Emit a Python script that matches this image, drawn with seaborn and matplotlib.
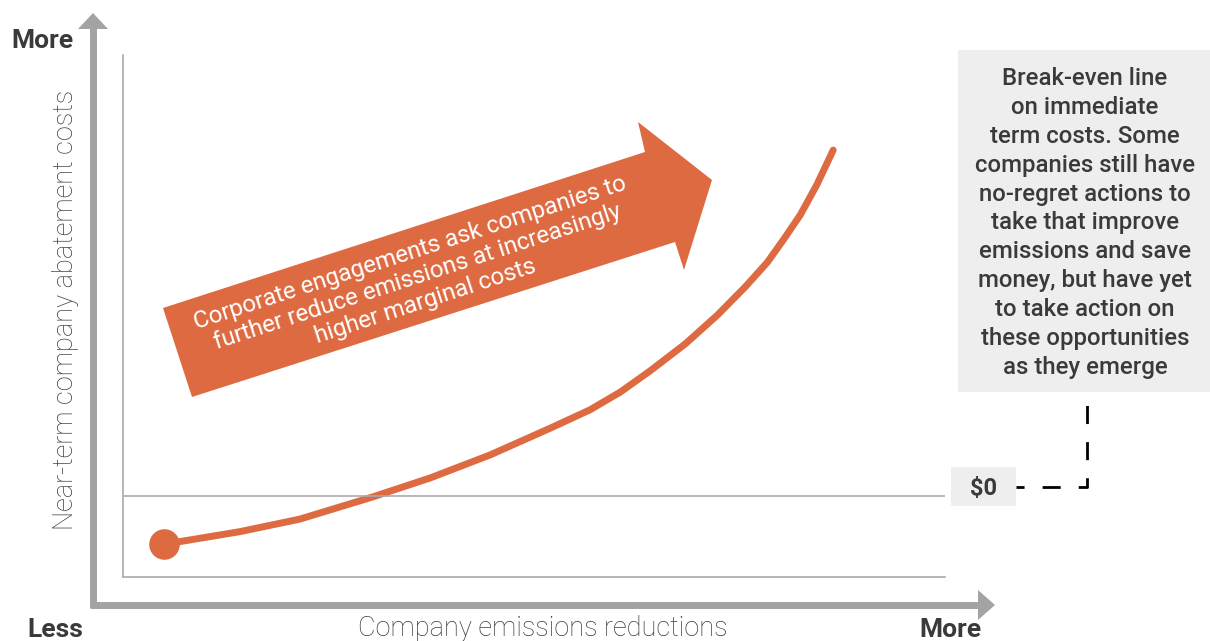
import numpy as np
import pandas as pd
import seaborn as sns
import matplotlib.pyplot as plt
from matplotlib.patches import Polygon, Rectangle

# curve: emissions reduction (0-100) vs near-term cost ($0 = 0)
reduction = [5.0, 14.2, 21.5, 30.4, 37.4, 44.7, 52.0, 56.8, 60.5, 64.1,
             68.4, 72.3, 75.7, 78.4, 80.5, 82.4, 84.4, 86.4]
cost = [-11.9, -8.8, -5.7, -0.2, 4.5, 10.2, 16.8, 21.3, 25.7, 30.9,
        37.6, 44.7, 51.7, 57.8, 63.8, 69.5, 76.9, 85.5]

arrow_text = ("Corporate engagements ask companies to\n"
              "further reduce emissions at increasingly\n"
              "higher marginal costs")
box_text = ("Break-even line\non immediate\nterm costs. Some\ncompanies still have\n"
            "no-regret actions to\ntake that improve\nemissions and save\n"
            "money, but have yet\nto take action on\nthese opportunities\nas they emerge")
x_label = "Company emissions reductions"
y_label = "Near-term company abatement costs"

orange = "#DE6A42"
grey = "#A3A3A3"
dark = "#3A3A3A"

sns.set_theme(style="white")
plt.rcParams['font.family'] = ['Roboto', 'DejaVu Sans']

fig = plt.figure(figsize=(12.1, 6.41), dpi=100)

# background layer in pixel units for the diagram furniture
bg = fig.add_axes([0, 0, 1, 1], zorder=0)
bg.set_xlim(0, 1210)
bg.set_ylim(641, 0)
bg.axis("off")

# outer grey axis arrows
bg.plot([93, 93], [607, 28], color=grey, lw=5, solid_capstyle="butt")
bg.add_patch(Polygon([[78, 29], [108, 29], [93, 13]], closed=True, color=grey, lw=0))
bg.plot([90, 979], [605, 605], color=grey, lw=5, solid_capstyle="butt")
bg.add_patch(Polygon([[978, 590], [978, 620], [995, 605]], closed=True, color=grey, lw=0))

bg.text(42, 41, "More", fontsize=19, fontweight="bold", color=dark, ha="center", va="center")
bg.text(55, 630, "Less", fontsize=19, fontweight="bold", color=dark, ha="center", va="center")
bg.text(950, 630, "More", fontsize=19, fontweight="bold", color=dark, ha="center", va="center")
bg.text(543, 629, x_label, fontsize=19.5, fontweight="light", color="#3C3C3C",
        ha="center", va="center")
bg.text(66, 310, y_label, fontsize=19.5, fontweight="light", color="#3C3C3C",
        ha="center", va="center", rotation=90)

# big block arrow with its caption
bg.add_patch(Polygon([[163, 308], [645, 152], [638, 122], [712, 180], [684, 270],
                      [675, 242], [192, 397]], closed=True, color=orange, lw=0))
bg.text(418, 277, arrow_text, fontsize=17.3, color="white", ha="center", va="center",
        rotation=18, rotation_mode="anchor", multialignment="center", linespacing=1.12)

# right-hand note and $0 label
bg.add_patch(Rectangle((958, 50), 254, 342, color="#EEEEEE", lw=0))
bg.text(1085, 223, box_text, fontsize=17.3, fontweight="medium", color=dark, ha="center",
        va="center", multialignment="center", linespacing=1.33)
bg.add_patch(Rectangle((951, 467), 65, 39, color="#EEEEEE", lw=0))
bg.text(984, 488, "$0", fontsize=17, fontweight="bold", color=dark, ha="center", va="center")
bg.plot([1016, 1087, 1087], [487, 487, 392], color="black", lw=2,
        linestyle=(3.6, (6.5, 6.5)))

# inner chart with the cost curve
ax = fig.add_axes([123 / 1210, 64 / 641, 822 / 1210, 522 / 641], zorder=1)
ax.set_facecolor("none")
df = pd.DataFrame({"reduction": reduction, "cost": cost})
sns.lineplot(data=df, x="reduction", y="cost", sort=False, estimator=None,
             color=orange, lw=5, ax=ax)
ax.plot(reduction[0], cost[0], "o", color=orange, markersize=22, markeredgewidth=0)
ax.axhline(0, color="#AAAAAA", lw=1.2)
ax.set_xlim(0, 100)
ax.set_ylim(-20, 109)
ax.set_xticks([])
ax.set_yticks([])
ax.set_xlabel("")
ax.set_ylabel("")
for side in ["top", "right"]:
    ax.spines[side].set_visible(False)
for side in ["left", "bottom"]:
    ax.spines[side].set_color("#AAAAAA")
    ax.spines[side].set_linewidth(1.2)

fig.savefig("out.png", dpi=100)
